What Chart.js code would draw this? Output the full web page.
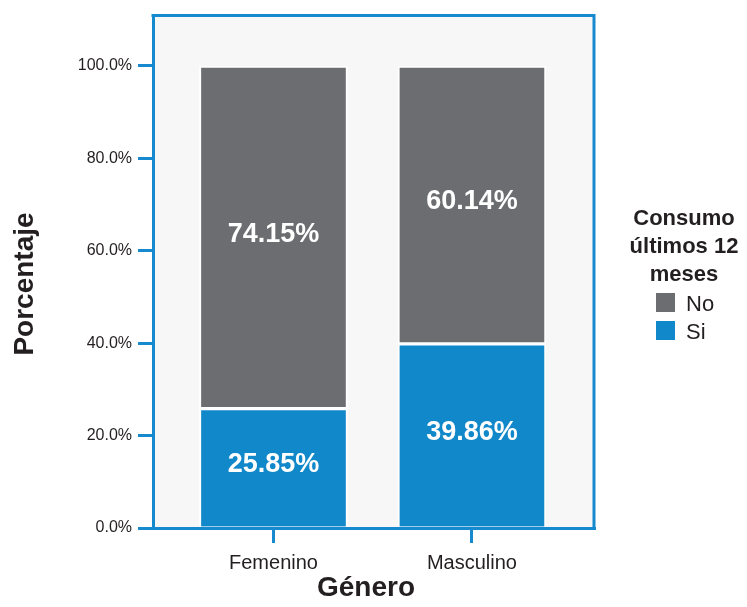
<!DOCTYPE html>
<html>
<head>
<meta charset="utf-8">
<title>Consumo últimos 12 meses por género</title>
<script src="https://cdn.jsdelivr.net/npm/chart.js@4/dist/chart.umd.min.js"></script>
<style>
  html, body { margin: 0; padding: 0; background: #ffffff; }
  #wrap { width: 747px; height: 607px; }
</style>
</head>
<body>
<div id="wrap"><canvas id="chart" width="747" height="607"></canvas></div>
<script>
// Data
const categories = ['Femenino', 'Masculino'];
const seriesSi = [25.85, 39.86];
const seriesNo = [74.15, 60.14];
const seriesNames = ['Si', 'No'];
const yTickValues = [0, 20, 40, 60, 80, 100];
const yAxisTitle = 'Porcentaje';
const xAxisTitle = 'Género';
const legendTitle = ['Consumo', 'últimos 12', 'meses'];

// Styling
const BLUE_AXIS = '#1689cf';
const BLUE_BAR = '#1188c9';
const GRAY_BAR = '#6c6d70';
const PLOT_BG = '#f7f7f7';
const TEXT = '#231f20';
const FONT = '"Liberation Sans", Arial, Helvetica, sans-serif';

const toPoints = vals => vals.map((v, i) => ({ x: i, y: v }));

// Plot background + full frame around the plot area
const framePlugin = {
  id: 'frame',
  beforeDraw(chart) {
    const { ctx, chartArea: a } = chart;
    ctx.save();
    ctx.fillStyle = PLOT_BG;
    ctx.fillRect(a.left, a.top, a.right - a.left, a.bottom - a.top);
    ctx.restore();
  },
  afterDraw(chart) {
    const { ctx, chartArea: a } = chart;
    ctx.save();
    ctx.strokeStyle = BLUE_AXIS;
    ctx.lineWidth = 3;
    ctx.beginPath();
    ctx.moveTo(a.left - 1.5, a.top);
    ctx.lineTo(a.right, a.top);
    ctx.lineTo(a.right, a.bottom + 1.5);
    ctx.stroke();
    ctx.restore();
  }
};

// Percentage labels in the middle of each bar segment
const valueLabelPlugin = {
  id: 'valueLabels',
  afterDatasetsDraw(chart) {
    const { ctx } = chart;
    ctx.save();
    ctx.fillStyle = '#ffffff';
    ctx.font = 'bold 27px ' + FONT;
    ctx.textAlign = 'center';
    ctx.textBaseline = 'alphabetic';
    chart.data.datasets.forEach((ds, di) => {
      const meta = chart.getDatasetMeta(di);
      meta.data.forEach((bar, i) => {
        const v = ds.data[i].y;
        const mid = (bar.y + bar.base) / 2;
        ctx.fillText(v.toFixed(2) + '%', bar.x, mid + 4.5);
      });
    });
    ctx.restore();
  }
};

// Axis titles and legend
const annotationPlugin = {
  id: 'annotations',
  afterDraw(chart) {
    const { ctx } = chart;
    ctx.save();
    ctx.fillStyle = TEXT;
    ctx.textAlign = 'center';
    ctx.textBaseline = 'alphabetic';

    ctx.font = 'bold 28px ' + FONT;
    ctx.fillText(xAxisTitle, 366, 596);

    ctx.save();
    ctx.translate(33, 284);
    ctx.rotate(-Math.PI / 2);
    ctx.fillText(yAxisTitle, 0, 0);
    ctx.restore();

    // legend title
    ctx.font = 'bold 22px ' + FONT;
    legendTitle.forEach((line, k) => ctx.fillText(line, 684, 225 + k * 28));

    // legend entries, top-most segment first
    ctx.textAlign = 'left';
    ctx.font = '22px ' + FONT;
    const items = chart.data.datasets.slice().reverse();
    items.forEach((ds, k) => {
      const top = 293 + k * 28;
      ctx.fillStyle = ds.backgroundColor;
      ctx.fillRect(656, top, 19, 19);
      ctx.fillStyle = TEXT;
      ctx.fillText(ds.label, 686, top + 18);
    });
    ctx.restore();
  }
};

new Chart(document.getElementById('chart'), {
  type: 'bar',
  data: {
    datasets: [
      {
        label: seriesNames[0],
        data: toPoints(seriesSi),
        backgroundColor: BLUE_BAR,
        borderColor: '#ffffff',
        borderWidth: 2,
        borderSkipped: 'start',
        barThickness: 148
      },
      {
        label: seriesNames[1],
        data: toPoints(seriesNo),
        backgroundColor: GRAY_BAR,
        borderColor: '#ffffff',
        borderWidth: 2,
        borderSkipped: false,
        barThickness: 148
      }
    ]
  },
  options: {
    responsive: false,
    devicePixelRatio: 1,
    animation: false,
    layout: { padding: { top: 11.6, right: 153, bottom: 0, left: 0 } },
    plugins: {
      legend: { display: false },
      tooltip: { enabled: false }
    },
    scales: {
      x: {
        type: 'linear',
        stacked: true,
        offset: false,
        min: -0.607,
        max: 1.615,
        afterBuildTicks(scale) {
          scale.ticks = categories.map((_, i) => ({ value: i }));
        },
        afterFit(scale) { scale.height = 79; },
        ticks: {
          callback: v => categories[v] ?? '',
          color: TEXT,
          font: { family: FONT, size: 20 },
          padding: 8,
          maxRotation: 0,
          autoSkip: false
        },
        grid: {
          offset: false,
          drawOnChartArea: false,
          drawTicks: true,
          tickLength: 15,
          color: BLUE_AXIS,
          lineWidth: 3
        },
        border: { display: true, color: BLUE_AXIS, width: 3 }
      },
      y: {
        stacked: true,
        min: 0,
        max: 110.9,
        afterBuildTicks(scale) {
          scale.ticks = yTickValues.map(v => ({ value: v }));
        },
        afterFit(scale) { scale.width = 153; },
        ticks: {
          callback: v => Number(v).toFixed(1) + '%',
          color: TEXT,
          font: { family: FONT, size: 16 },
          padding: 6
        },
        grid: {
          drawOnChartArea: false,
          drawTicks: true,
          tickLength: 15,
          color: BLUE_AXIS,
          lineWidth: 3
        },
        border: { display: true, color: BLUE_AXIS, width: 3 }
      }
    }
  },
  plugins: [framePlugin, valueLabelPlugin, annotationPlugin]
});
</script>
</body>
</html>
